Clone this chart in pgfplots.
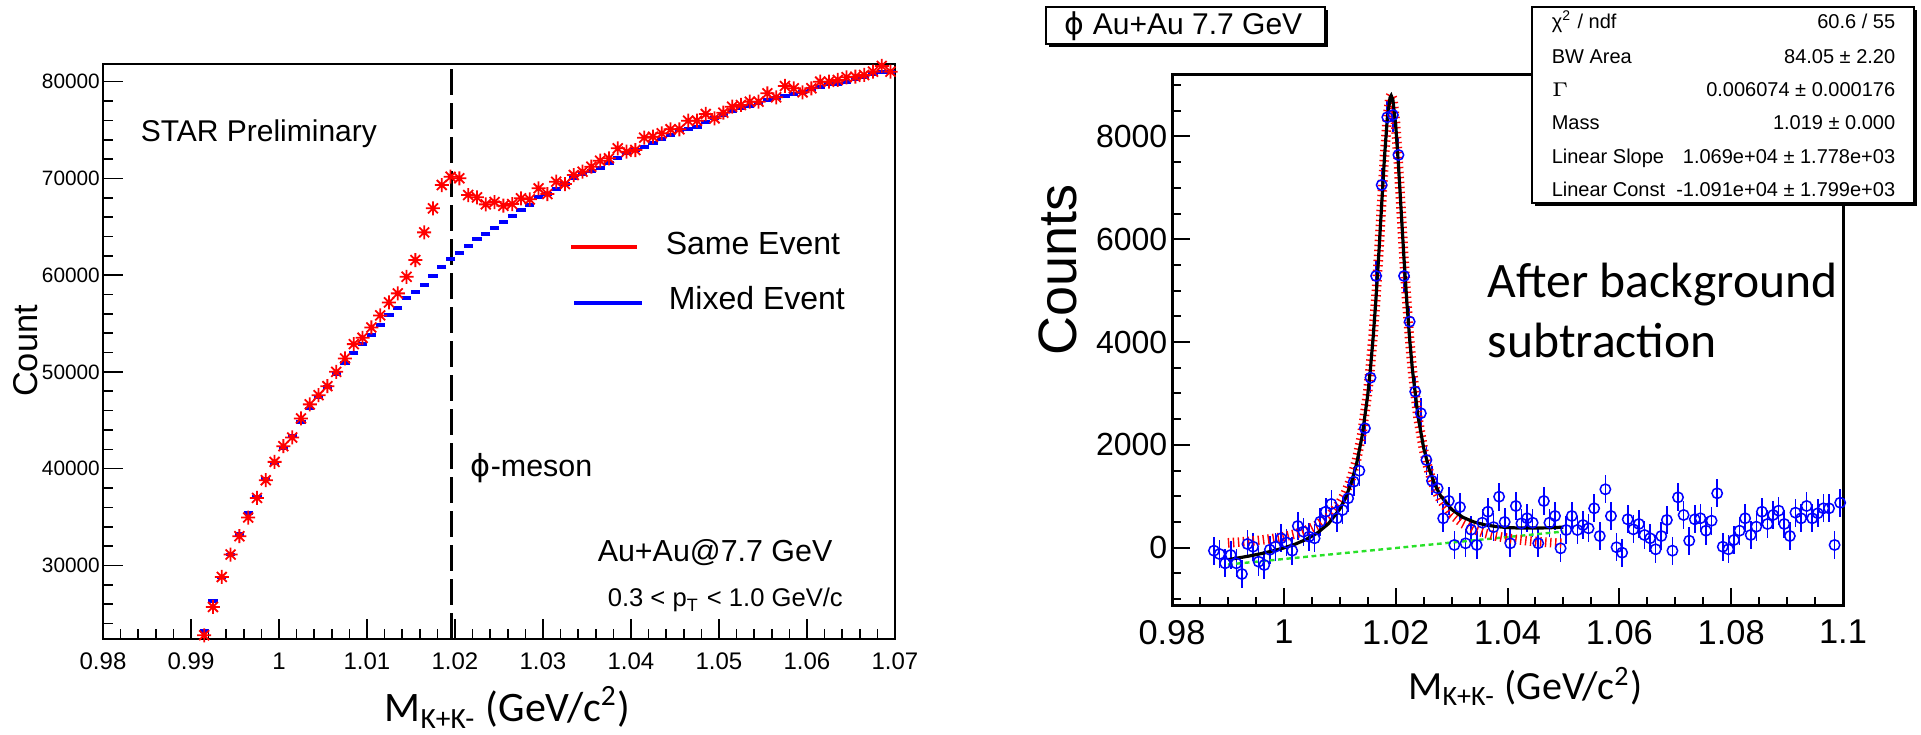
\documentclass[border=0pt]{standalone}
\usepackage{fontspec}
\setmainfont{Liberation Sans}
\newfontfamily\calibri{Carlito}
\newfontfamily\dejavu{DejaVu Sans}
\usepackage{pgfplots}
\pgfplotsset{compat=1.18}
\definecolor{rootgreen}{RGB}{40,225,40}
\pgfdeclareplotmark{star8}{%
 \pgfpathmoveto{\pgfqpoint{-\pgfplotmarksize}{0pt}}\pgfpathlineto{\pgfqpoint{\pgfplotmarksize}{0pt}}%
 \pgfpathmoveto{\pgfqpoint{0pt}{-\pgfplotmarksize}}\pgfpathlineto{\pgfqpoint{0pt}{\pgfplotmarksize}}%
 \pgfpathmoveto{\pgfqpoint{-0.707\pgfplotmarksize}{-0.707\pgfplotmarksize}}\pgfpathlineto{\pgfqpoint{0.707\pgfplotmarksize}{0.707\pgfplotmarksize}}%
 \pgfpathmoveto{\pgfqpoint{-0.707\pgfplotmarksize}{0.707\pgfplotmarksize}}\pgfpathlineto{\pgfqpoint{0.707\pgfplotmarksize}{-0.707\pgfplotmarksize}}%
 \pgfusepathqstroke}

\pgfplotstableread{
x y
0.9915 22782
0.9925 25708
0.9935 28810
0.9945 31127
0.9955 33020
0.9965 34953
0.9975 36980
0.9985 38810
0.9995 40703
1.0005 42327
1.0015 43227
1.0025 45192
1.0035 46650
1.0045 47600
1.0055 48531
1.0065 50010
1.0075 51396
1.0085 52875
1.0095 53527
1.0105 54602
1.0115 55843
1.0125 57187
1.0135 58118
1.0145 59834
1.0155 61562
1.0165 64426
1.0175 66908
1.0185 69318
1.0195 70176
1.0205 70010
1.0215 68283
1.0225 68045
1.0235 67321
1.0245 67560
1.0255 67177
1.0265 67353
1.0275 67942
1.0285 67839
1.0295 68976
1.0305 68387
1.0315 69659
1.0325 69421
1.0335 70352
1.0345 70693
1.0355 71210
1.0365 71830
1.0375 72078
1.0385 73112
1.0395 72761
1.0405 72937
1.0415 74209
1.0425 74312
1.0435 74664
1.0445 75077
1.0455 75077
1.0465 75967
1.0475 75967
1.0485 76660
1.0495 76215
1.0505 76794
1.0515 77414
1.0525 77590
1.0535 77930
1.0545 77930
1.0555 78800
1.0565 78387
1.0575 79555
1.0585 79317
1.0595 78900
1.0605 79317
1.0615 80000
1.0625 80000
1.0635 80176
1.0645 80455
1.0655 80517
1.0665 80693
1.0675 81034
1.0685 81624
1.0695 81034
}\sameevent

\pgfplotstableread{
x y
0.9915 23190
0.9925 26297
0.9935 28750
0.9945 31127
0.9955 33226
0.9965 35430
0.9975 37085
0.9985 38914
0.9995 40538
1.0005 42090
1.0015 43433
1.0025 44840
1.0035 46225
1.0045 47362
1.0055 48460
1.0065 49772
1.0075 50941
1.0085 51975
1.0095 52875
1.0105 53805
1.0115 54840
1.0125 55874
1.0135 56630
1.0145 57663
1.0155 58221
1.0165 58976
1.0175 59938
1.0185 60869
1.0195 61700
1.0205 62316
1.0215 63040
1.0225 63700
1.0235 64250
1.0245 64901
1.0255 65523
1.0265 66112
1.0275 66732
1.0285 67250
1.0295 68045
1.0305 68387
1.0315 68904
1.0325 69421
1.0335 70010
1.0345 70455
1.0355 70765
1.0365 71044
1.0375 71624
1.0385 72078
1.0395 72596
1.0405 72937
1.0415 73278
1.0425 73692
1.0435 74043
1.0445 74488
1.0455 75005
1.0465 75077
1.0475 75346
1.0485 75863
1.0495 76215
1.0505 76556
1.0515 77001
1.0525 77249
1.0535 77487
1.0545 77766
1.0555 78108
1.0565 78283
1.0575 78521
1.0585 78728
1.0595 78966
1.0605 79214
1.0615 79483
1.0625 79762
1.0635 79762
1.0645 80000
1.0655 80248
1.0665 80455
1.0675 80796
1.0685 80972
1.0695 81034
}\mixedevent

\pgfplotstableread{
x y e
0.9875 -58 270
0.9885 -123 270
0.9895 -304 270
0.9905 -142 270
0.9915 -304 270
0.9925 -512 270
0.9935 72 270
0.9945 19 270
0.9955 -272 270
0.9965 -337 270
0.9975 -40 270
0.9985 19 270
0.9995 183 270
1.0005 100 270
1.0015 -58 270
1.0025 422 270
1.0035 311 270
1.0045 214 270
1.0055 183 270
1.0065 506 270
1.0075 700 270
1.0085 850 270
1.0095 572 270
1.0105 733 270
1.0115 961 270
1.0125 1284 280
1.0135 1498 290
1.0145 2323 300
1.0155 3307 300
1.0165 5286 320
1.0175 7056 330
1.0185 8373 340
1.0195 8418 340
1.0205 7640 330
1.0215 5286 320
1.0225 4397 310
1.0235 3035 300
1.0245 2615 300
1.0255 1706 290
1.0265 1300 280
1.0275 1156 280
1.0285 572 270
1.0295 910 270
1.0305 53 270
1.0315 790 270
1.0325 85 270
1.0335 350 270
1.0345 53 270
1.0355 486 270
1.0365 700 270
1.0375 400 270
1.0385 992 270
1.0395 500 270
1.0405 85 270
1.0415 811 270
1.0425 473 270
1.0435 572 270
1.0445 486 270
1.0455 85 270
1.0465 908 270
1.0475 486 270
1.0485 617 270
1.0495 -12 270
1.0505 344 270
1.0515 617 270
1.0525 344 270
1.0535 441 270
1.0545 377 270
1.0555 766 270
1.0565 227 270
1.0575 1136 270
1.0585 617 270
1.0595 8 270
1.0605 -97 270
1.0615 552 270
1.0625 357 270
1.0635 461 270
1.0645 247 270
1.0655 183 270
1.0665 -31 270
1.0675 227 270
1.0685 539 270
1.0695 -58 270
1.0705 980 270
1.0715 636 270
1.0725 136 270
1.0735 552 270
1.0745 572 270
1.0755 331 270
1.0765 525 270
1.0775 1058 270
1.0785 19 270
1.0795 -31 270
1.0805 150 270
1.0815 331 270
1.0825 572 270
1.0835 247 270
1.0845 409 270
1.0855 700 270
1.0865 461 270
1.0875 636 270
1.0885 720 270
1.0895 461 270
1.0905 227 270
1.0915 681 270
1.0925 572 270
1.0935 811 270
1.0945 572 270
1.0955 669 270
1.0965 766 270
1.0975 766 270
1.0985 53 270
1.0995 875 270
}\subtracted

\pgfplotstableread{
x y
0.990 94.3
0.992 108.5
0.994 126.1
0.996 148.4
0.998 177.2
1.000 215.0
1.002 266.4
1.004 338.2
1.006 442.9
1.008 603.4
1.010 865.7
1.011 1062.7
1.012 1330.7
1.013 1704.9
1.014 2240.9
1.015 3025.1
1.0155 3546.7
1.016 4175.5
1.0165 4921.6
1.017 5779.2
1.0175 6709.7
1.018 7622.4
1.0185 8365.6
1.019 8772.0
1.0192 8810.0
1.0195 8724.9
1.020 8238.3
1.0205 7445.7
1.021 6519.7
1.0215 5598.8
1.022 4762.1
1.0225 4040.0
1.023 3433.8
1.024 2518.5
1.025 1895.7
1.026 1465.0
1.027 1159.7
1.028 937.6
1.030 645.6
1.032 469.5
1.034 356.0
1.036 278.8
1.038 224.1
1.040 183.9
1.042 153.6
1.044 130.2
1.046 111.7
1.048 96.9
1.050 84.8
}\bwonly

\pgfplotstableread{
x y
0.990 -232.6
0.992 -197.0
0.994 -158.0
0.996 -114.4
0.998 -64.2
1.000 -5.0
1.002 67.8
1.004 161.0
1.006 287.0
1.008 468.9
1.010 752.6
1.011 960.3
1.012 1239.0
1.013 1623.9
1.014 2170.6
1.015 2965.5
1.0155 3492.4
1.016 4126.5
1.0165 4878.0
1.017 5740.9
1.0175 6676.8
1.018 7594.8
1.0185 8343.3
1.019 8755.1
1.0192 8795.2
1.0195 8713.3
1.020 8232.1
1.0205 7444.8
1.021 6524.2
1.0215 5608.6
1.022 4777.3
1.0225 4060.5
1.023 3459.7
1.024 2555.1
1.025 1943.0
1.026 1523.0
1.027 1228.3
1.028 1016.9
1.030 746.3
1.032 591.6
1.034 499.5
1.036 443.6
1.038 410.3
1.040 391.5
1.042 382.6
1.044 380.6
1.046 383.4
1.048 390.0
1.050 399.3
}\totalfit

\begin{document}
\begin{tikzpicture}
\useasboundingbox (0,0) rectangle (480.25pt,183.75pt);
% ---------------- left panel ----------------
\begin{axis}[at={(25.75pt,24pt)}, anchor=south west, scale only axis,
 width=198pt, height=143.75pt,
 xmin=0.98, xmax=1.07, ymin=22400, ymax=81830,
 scaled x ticks=false, scaled y ticks=false,
 xtick={0.98,0.99,1,1.01,1.02,1.03,1.04,1.05,1.06,1.07},
 xticklabels={0.98,0.99,1,1.01,1.02,1.03,1.04,1.05,1.06,1.07},
 minor xtick={0.98,0.982,...,1.07},
 ytick={30000,40000,50000,60000,70000,80000},
 yticklabels={30000,40000,50000,60000,70000,80000},
 minor ytick={24000,26000,...,80000},
 tick pos=left, tick align=inside,
 major tick length=5pt, minor tick length=2.6pt,
 tick style={black, line width=0.4pt},
 axis line style={line width=0.45pt},
 /pgf/number format/assume math mode=true,
 x tick label style={font=\fontsize{6}{7}\selectfont},
 y tick label style={font=\fontsize{5.2}{6}\selectfont, inner sep=0.6pt},
 clip marker paths=false]
\addplot[black, line width=0.6pt, dash pattern=on 6.5pt off 2pt] coordinates {(1.0196,22400) (1.0196,81830)};
\addplot[blue, only marks, mark=-, mark size=1.15pt, mark options={line width=0.95pt}] table[x=x,y=y] {\mixedevent};
\addplot[red, only marks, mark=star8, mark size=1.75pt, mark options={line width=0.45pt}] table[x=x,y=y] {\sameevent};
\end{axis}
% left panel texts
\node[rotate=90, anchor=base, font=\fontsize{8.6}{10}\selectfont] at (9.4pt,96pt) {Count};
\node[anchor=base, inner sep=0pt, font=\calibri\fontsize{10.5}{12}\selectfont] at (126.9pt,3.3pt) {M\textsubscript{K+K-} (GeV/c\textsuperscript{2})};
\node[anchor=base west, inner sep=0pt, font=\fontsize{7.5}{9}\selectfont] at (35pt,148.25pt) {STAR Preliminary};
\draw[red, line width=1pt] (142.75pt,122pt) -- (159.25pt,122pt);
\draw[blue, line width=1pt] (143.5pt,108pt) -- (160.5pt,108pt);
\node[anchor=base west, inner sep=0pt, font=\fontsize{8}{9}\selectfont] at (166.25pt,120pt) {Same Event};
\node[anchor=base west, inner sep=0pt, font=\fontsize{8}{9}\selectfont] at (167pt,106.25pt) {Mixed Event};
\node[anchor=base west, inner sep=0pt, font=\fontsize{7.6}{9}\selectfont] at (117.5pt,64.5pt) {{\dejavu ϕ}-meson};
\node[anchor=base west, inner sep=0pt, font=\fontsize{7.6}{9}\selectfont] at (149.25pt,43.25pt) {Au+Au@7.7 GeV};
\node[anchor=base west, inner sep=0pt, font=\fontsize{6.4}{8}\selectfont] at (151.75pt,32pt) {0.3 < p\textsubscript{T} < 1.0 GeV/c};
% ---------------- right panel ----------------
\begin{axis}[at={(293pt,32.25pt)}, anchor=south west, scale only axis,
 width=167.75pt, height=132.75pt,
 xmin=0.98, xmax=1.1, ymin=-1134, ymax=9196,
 scaled x ticks=false, scaled y ticks=false,
 xtick={0.98,1,1.02,1.04,1.06,1.08,1.1},
 xticklabels={0.98,1,1.02,1.04,1.06,1.08,1.1},
 minor xtick={0.98,0.985,...,1.1},
 ytick={0,2000,4000,6000,8000},
 yticklabels={0,2000,4000,6000,8000},
 minor ytick={-1000,-500,...,9000},
 tick pos=left, tick align=inside,
 major tick length=4.6pt, minor tick length=2.3pt,
 tick style={black, line width=0.5pt},
 axis line style={line width=0.75pt},
 /pgf/number format/assume math mode=true,
 x tick label style={font=\fontsize{8.6}{10}\selectfont},
 y tick label style={font=\fontsize{8}{10}\selectfont, inner sep=1pt},
 clip marker paths=false]
\addplot[blue, only marks, mark=o, mark size=1.3pt,
 mark options={line width=0.38pt, fill=white},
 error bars/.cd, y dir=both, y explicit,
 error bar style={line width=0.4pt, blue}, error mark=none]
 table[x=x,y=y,y error=e] {\subtracted};
\addplot[rootgreen, line width=0.6pt, dash pattern=on 1.2pt off 0.9pt] coordinates {(0.99,-327) (1.05,314)};
\addplot[red, line width=2.4pt, dash pattern=on 0.35pt off 0.9pt] table[x=x,y=y] {\bwonly};
\addplot[black, line width=0.8pt] table[x=x,y=y] {\totalfit};
\end{axis}
% right panel texts
\node[rotate=90, anchor=base, font=\fontsize{13.5}{15}\selectfont] at (269pt,116.25pt) {Counts};
\node[anchor=base, inner sep=0pt, font=\calibri\fontsize{10}{12}\selectfont] at (381.4pt,8.75pt) {M\textsubscript{K+K-} (GeV/c\textsuperscript{2})};
\node[anchor=base west, inner sep=0pt, font=\calibri\fontsize{12.4}{15}\selectfont] at (371.75pt,109.25pt) {After background};
\node[anchor=base west, inner sep=0pt, font=\calibri\fontsize{12.4}{15}\selectfont] at (371.75pt,94.25pt) {subtraction};
% title box
\fill[black] (262.25pt,172pt) rectangle (332pt,181.25pt);
\draw[fill=white, line width=0.4pt] (261.5pt,172.75pt) rectangle (331.25pt,182pt);
\node[anchor=base west, inner sep=0pt, font=\fontsize{7.5}{9}\selectfont] at (266pt,175pt) {{\dejavu ϕ} Au+Au 7.7 GeV};
% stats box
\fill[black] (383.75pt,132.25pt) rectangle (479.25pt,181.25pt);
\draw[fill=white, line width=0.4pt] (383pt,133pt) rectangle (478.5pt,182pt);
\begin{scope}[every node/.style={inner sep=0pt, font=\fontsize{5}{6}\selectfont}]
\node[anchor=base west] at (387.75pt,176.5pt) {χ\textsuperscript{\fontsize{3.5}{4}\selectfont 2} / ndf};
\node[anchor=base east] at (474pt,176.5pt) {60.6 / 55};
\node[anchor=base west] at (387.75pt,167.75pt) {BW Area};
\node[anchor=base east] at (474pt,167.75pt) {84.05 ± 2.20};
\node[anchor=base west] at (387.75pt,159.5pt) {$\Gamma$};
\node[anchor=base east] at (474pt,159.5pt) {0.006074 ± 0.000176};
\node[anchor=base west] at (387.75pt,151.25pt) {Mass};
\node[anchor=base east] at (474pt,151.25pt) {1.019 ± 0.000};
\node[anchor=base west] at (387.75pt,142.75pt) {Linear Slope};
\node[anchor=base east] at (474pt,142.75pt) {1.069e+04 ± 1.778e+03};
\node[anchor=base west] at (387.75pt,134.5pt) {Linear Const};
\node[anchor=base east] at (474pt,134.5pt) {-1.091e+04 ± 1.799e+03};
\end{scope}
\end{tikzpicture}
\end{document}
